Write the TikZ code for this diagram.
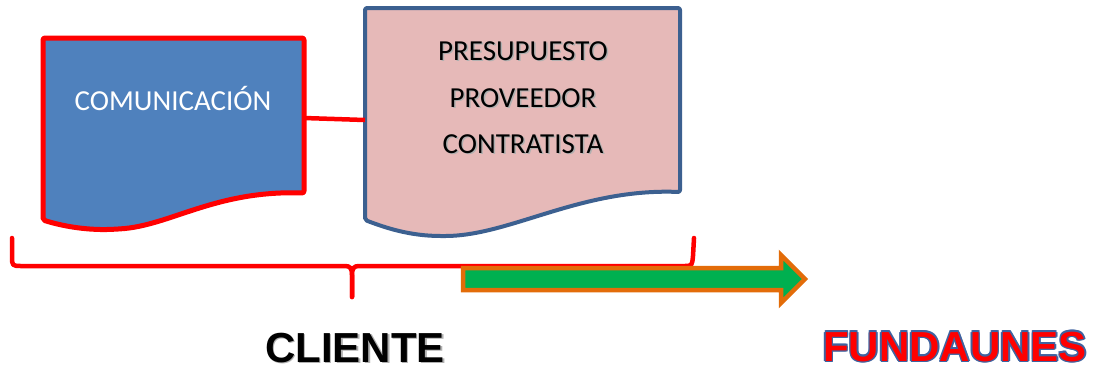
\documentclass[tikz,border=0pt]{standalone}
\usepackage{fontspec}
\setmainfont{Carlito}
\newfontfamily\arialf{Liberation Sans}
\definecolor{docblue}{HTML}{4F81BD}
\definecolor{docred}{HTML}{FF0000}
\definecolor{docpink}{HTML}{E6B9B8}
\definecolor{docedge}{HTML}{3C6090}
\definecolor{arrgreen}{HTML}{00B050}
\definecolor{arrorange}{HTML}{E36C09}
\definecolor{fblue}{HTML}{3F63A0}
\definecolor{shgray}{HTML}{B0B0B0}
\newcommand\myoffs[3]{\rlap{\hspace{#1}\raisebox{#2}{#3}}}
\newcommand\myshadow[1]{\leavevmode\myoffs{1.5pt}{-1.5pt}{\textcolor{shgray}{#1}}#1}
\newcommand\myoutline[1]{\leavevmode{\color{fblue}\myoffs{-1.6pt}{0pt}{#1}\myoffs{1.6pt}{0pt}{#1}\myoffs{0pt}{1.6pt}{#1}\myoffs{0pt}{-1.6pt}{#1}\myoffs{-1.1pt}{-1.1pt}{#1}\myoffs{1.1pt}{1.1pt}{#1}\myoffs{-1.1pt}{1.1pt}{#1}\myoffs{1.1pt}{-1.1pt}{#1}}\textcolor{docred}{#1}}
\tikzset{
  docone/.style={fill=docblue, draw=docred, line width=5pt, rounded corners=2pt, line join=round},
  doctwo/.style={fill=docpink, draw=docedge, line width=4pt, rounded corners=2pt, line join=round},
  bracestyle/.style={draw=docred, line width=4.5pt, line cap=round, line join=round},
  linkstyle/.style={draw=docred, line width=4.5pt},
  bigarrow/.style={fill=arrgreen, draw=arrorange, line width=4.5pt, line join=miter},
  doctext/.style={font=\fontsize{29}{35}\selectfont, anchor=base, inner sep=0pt},
  bigtext/.style={font=\arialf\bfseries\fontsize{42}{48}\selectfont, anchor=base, inner sep=0pt}
}
\begin{document}
\begin{tikzpicture}[x=1pt,y=-1pt]
\useasboundingbox (0,0) rectangle (1094,368);
% document 1
\path[docone] (43,38) -- (304,38) -- (304,193)
  .. controls (215,190) and (170,226) .. (118,229)
  .. controls (88,231) and (62,226) .. (43,220) -- cycle;
% document 2
\path[doctwo] (365,8) -- (680,8) -- (680,192)
  .. controls (580,188) and (510,236) .. (443,236)
  .. controls (410,236) and (386,228) .. (365,220) -- cycle;
% connector
\coordinate (c1) at (304,118);
\coordinate (c2) at (365,120);
\draw[linkstyle] (c1) -- (c2);
% brace
\coordinate (bl) at (12,238);
\coordinate (br) at (694,238);
\coordinate (bt) at (352,297);
\draw[bracestyle] (bl) -- (12,256) .. controls (12,266) .. (22,266) -- (345,266)
  .. controls (350,266) and (352,268) .. (352,275) -- (bt);
\draw[bracestyle] (bt) -- (352,275) .. controls (352,268) and (354,266) .. (359,266) -- (684,266)
  .. controls (692,266) .. (693,256) -- (br);
% arrow
\path[bigarrow] (463,268) -- (781,268) -- (781,255) -- (805,279) -- (781,303) -- (781,290) -- (463,290) -- cycle;
% texts
\node[doctext, text=white] (t1) at (173,110) {COMUNICACIÓN};
\node[doctext] (p1) at (523,60) {\myshadow{PRESUPUESTO}};
\node[doctext] (p2) at (523,107) {\myshadow{PROVEEDOR}};
\node[doctext] (p3) at (523,153) {\myshadow{CONTRATISTA}};
\node[bigtext] (cl) at (355,362) {\myshadow{CLIENTE}};
\node[bigtext] (fu) at (955,361) {\myoutline{FUNDAUNES}};
\end{tikzpicture}
\end{document}
